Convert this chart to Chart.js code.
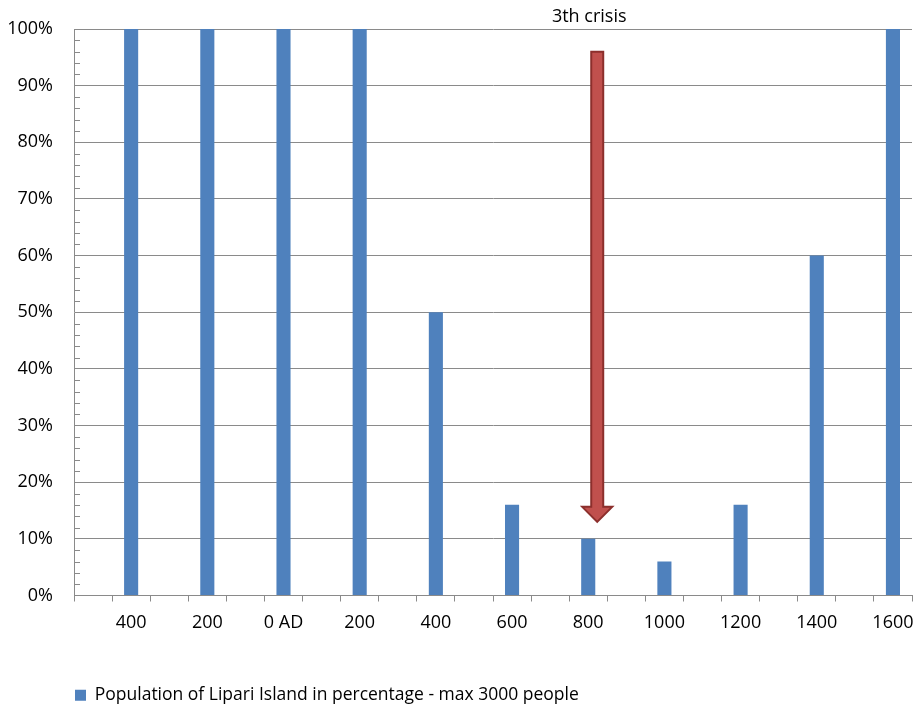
<!DOCTYPE html>
<html>
<head>
<meta charset="utf-8">
<script src="https://cdn.jsdelivr.net/npm/chart.js@4/dist/chart.umd.min.js"></script>
<style>
  html, body { margin: 0; padding: 0; background: #fff; }
  canvas { display: block; }
</style>
</head>
<body>
<canvas id="chart" width="917" height="709"></canvas>
<script>
// カテゴリ(空欄を挟んで2つおきにラベル)
const yearLabels = ['', '400', '', '200', '', '0 AD', '', '200', '', '400', '', '600',
                    '', '800', '', '1000', '', '1200', '', '1400', '', '1600'];
// 人口(%) - 空欄カテゴリは null
const population = [null, 100, null, 100, null, 100, null, 100, null, 50, null, 16,
                    null, 10, null, 6, null, 16, null, 60, null, 100];
const seriesName = 'Population of Lipari Island in percentage - max 3000 people';

// 矢印の注記
const crisisText = '3th crisis';
const crisisIndex = 13;
const arrowFrom = 96;
const arrowTo = 13;

const gridColor = '#8a8a8a';
const fontFamily = '"Open Sans", "Liberation Sans", sans-serif';

// 矢印と y 軸の補助目盛り
const annotations = {
    id: 'annotations',
    afterDatasetsDraw(chart) {
        const ctx = chart.ctx;
        const x = chart.scales.x;
        const y = chart.scales.y;
        const area = chart.chartArea;

        // 補助目盛り
        ctx.save();
        ctx.strokeStyle = gridColor;
        ctx.lineWidth = 1;
        for (let v = 0; v <= 100; v += 2) {
            if (v % 10 === 0) continue;
            const py = Math.round(y.getPixelForValue(v)) + 0.5;
            ctx.beginPath();
            ctx.moveTo(area.left, py);
            ctx.lineTo(area.left + 6, py);
            ctx.stroke();
        }
        ctx.restore();

        // 矢印
        const cx = x.getPixelForValue(crisisIndex) + 9;
        const top = y.getPixelForValue(arrowFrom);
        const tip = y.getPixelForValue(arrowTo);
        const shaft = 6;
        const head = 15;
        const headH = 15;
        ctx.save();
        ctx.beginPath();
        ctx.moveTo(cx - shaft, top);
        ctx.lineTo(cx + shaft, top);
        ctx.lineTo(cx + shaft, tip - headH);
        ctx.lineTo(cx + head, tip - headH);
        ctx.lineTo(cx, tip);
        ctx.lineTo(cx - head, tip - headH);
        ctx.lineTo(cx - shaft, tip - headH);
        ctx.closePath();
        ctx.fillStyle = '#c0504d';
        ctx.fill();
        ctx.strokeStyle = '#8c2f2c';
        ctx.lineWidth = 2;
        ctx.stroke();
        ctx.restore();

        // 注記テキスト
        ctx.save();
        ctx.fillStyle = '#000';
        ctx.font = '18px ' + fontFamily;
        ctx.textAlign = 'center';
        ctx.textBaseline = 'middle';
        ctx.fillText(crisisText, x.getPixelForValue(crisisIndex) + 1, area.top - 12);
        ctx.restore();
    }
};

new Chart(document.getElementById('chart'), {
    type: 'bar',
    data: {
        labels: yearLabels,
        datasets: [{
            label: seriesName,
            data: population,
            backgroundColor: '#4f81bd',
            borderWidth: 0,
            barPercentage: 0.37,
            categoryPercentage: 1.0
        }]
    },
    options: {
        responsive: false,
        animation: false,
        devicePixelRatio: 1,
        events: [],
        layout: { padding: { left: 8, right: 5, top: 29, bottom: -5 } },
        plugins: {
            tooltip: { enabled: false },
            legend: {
                position: 'bottom',
                align: 'start',
                fullSize: false,
                labels: {
                    boxWidth: 11,
                    boxHeight: 11,
                    padding: 1,
                    color: '#000',
                    font: { family: fontFamily, size: 17.5 }
                }
            }
        },
        scales: {
            x: {
                afterFit(scale) {
                    scale.height = 90;
                    scale.paddingRight = 0;
                },
                grid: {
                    offset: true,
                    drawOnChartArea: false,
                    drawTicks: true,
                    tickLength: 6,
                    color: gridColor
                },
                border: { color: gridColor },
                ticks: {
                    autoSkip: false,
                    maxRotation: 0,
                    padding: 11,
                    color: '#000',
                    font: { family: fontFamily, size: 18 }
                }
            },
            y: {
                min: 0,
                max: 100,
                afterFit(scale) {
                    scale.width = 66;
                    scale.paddingTop = 0;
                    scale.paddingBottom = 0;
                },
                grid: { color: gridColor, drawTicks: false },
                border: { color: gridColor },
                ticks: {
                    stepSize: 10,
                    padding: 21,
                    color: '#000',
                    font: { family: fontFamily, size: 18 },
                    callback: v => v + '%'
                }
            }
        }
    },
    plugins: [annotations]
});
</script>
</body>
</html>
